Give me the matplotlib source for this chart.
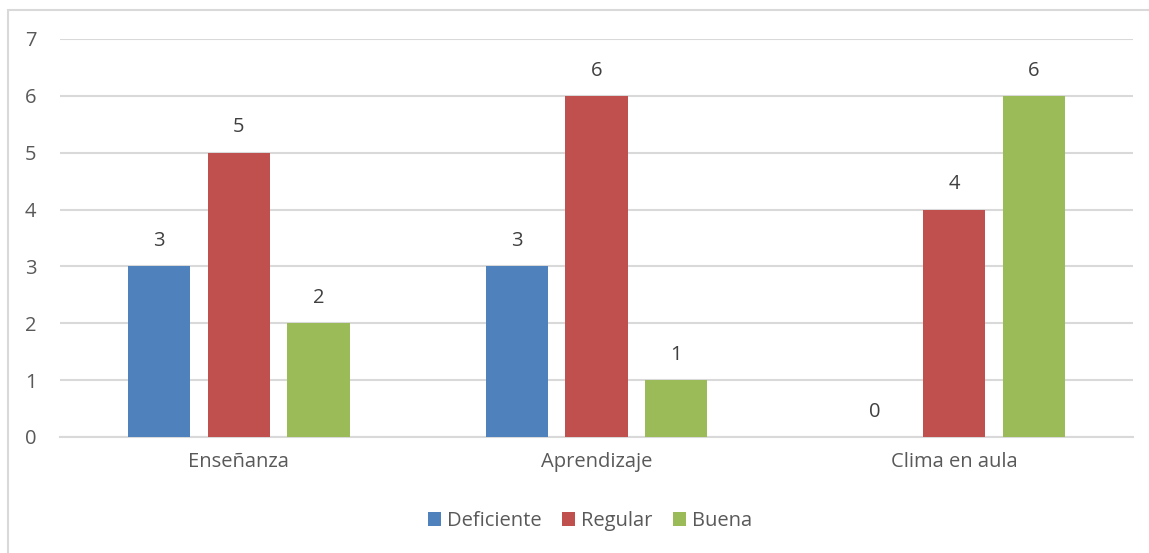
import matplotlib
matplotlib.use("Agg")
import matplotlib.pyplot as plt
from matplotlib.patches import Rectangle
import numpy as np

categories = ["Enseñanza", "Aprendizaje", "Clima en aula"]
series_names = ["Deficiente", "Regular", "Buena"]
deficiente = [3, 3, 0]
regular = [5, 6, 4]
buena = [2, 1, 6]
colors = ["#4F81BD", "#C0504D", "#9BBB59"]

plt.rcParams['font.family'] = ['Open Sans', 'DejaVu Sans']
text_color = "#595959"
fs = 14.5

fig = plt.figure(figsize=(11.49, 5.53), dpi=100)
fig.patches.append(Rectangle((8/1149, -0.01), 1.2, 1 - 10/553 + 0.01, transform=fig.transFigure,
                             fill=False, edgecolor="#d9d9d9", linewidth=1.5))
ax = fig.add_axes([60/1149, 1 - 437/553, (1133-60)/1149, (437-39)/553])

x = np.arange(len(categories))
width = 0.174
step = 0.223
all_series = [deficiente, regular, buena]
for i, (vals, name, c) in enumerate(zip(all_series, series_names, colors)):
    pos = x + (i - 1) * step
    ax.bar(pos, vals, width=width, color=c, label=name, zorder=3)
    for p, v in zip(pos, vals):
        ax.text(p, v + 0.27, str(v), ha='center', va='bottom', fontsize=fs, color="#404040")

ax.set_xlim(-0.5, 2.5)
ax.set_ylim(0, 7)
ax.set_yticks(range(0, 8))
ax.set_xticks(x)
ax.set_xticklabels(categories)
ax.grid(axis='y', color="#d9d9d9", linewidth=1.5, zorder=0)
for s in ['top', 'right', 'left']:
    ax.spines[s].set_visible(False)
ax.spines['bottom'].set_color("#d9d9d9")
ax.spines['bottom'].set_linewidth(1.5)
ax.tick_params(axis='both', length=0, labelsize=fs, colors=text_color)
ax.tick_params(axis='y', pad=17)
ax.tick_params(axis='x', pad=11)

leg = fig.legend(loc='center', bbox_to_anchor=(590/1149, 1 - 521/553), ncol=3, frameon=False,
                 fontsize=fs, handlelength=0.65, handleheight=0.65, handletextpad=0.3, columnspacing=1.0)
for t in leg.get_texts():
    t.set_color(text_color)

fig.savefig("out.png", dpi=100)
